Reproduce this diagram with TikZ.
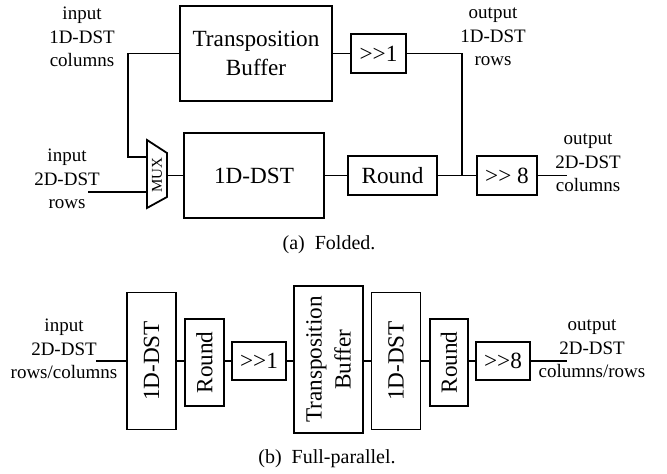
\documentclass[tikz,border=0pt]{standalone}
\usepackage{fontspec}
\setmainfont{Liberation Serif}
\usetikzlibrary{positioning}

\newcommand{\shr}[1]{\textgreater\kern0pt\textgreater#1}

\begin{document}
\begin{tikzpicture}[
        x=0.5pt, y=-0.5pt,
        font=\fontsize{11.6}{14.5}\selectfont,
        line width=0.9pt,
        box/.style={draw, inner sep=0pt, align=center},
        lbl/.style={align=center, inner sep=0pt, font=\fontsize{9.5}{11.75}\selectfont},
        capt/.style={inner sep=0pt, font=\fontsize{10}{12}\selectfont},
        vbox/.style={box, rotate=90},
      ]
        \useasboundingbox (0,0) rectangle (667,474);

        % (a) folded
        \node[box, minimum width=76pt, minimum height=47.5pt] (tbuf) at (256,53.5) {Transposition\\Buffer};
        \node[box, minimum width=70pt, minimum height=42.5pt] (dsta) at (254,175.5) {1D-DST};
        \node[box, minimum width=27.5pt, minimum height=19.5pt] (shra) at (378.5,53.5) {\shr{1}};
        \node[box, minimum width=44.5pt, minimum height=19.5pt] (rnda) at (392.5,175.5) {Round};
        \node[box, minimum width=30pt, minimum height=19.5pt] (shrb) at (507,175.5) {\shr{ 8}};

        \draw (147,140) -- (167,153) -- (167,197) -- (147,208) -- cycle;
        \node[rotate=90, inner sep=0pt, font=\fontsize{7.5}{9}\selectfont] (mux) at (157,175) {MUX};
        \coordinate (muxa) at (147,157);
        \coordinate (muxb) at (147,192);
        \coordinate (muxo) at (167,175.5);
        \coordinate (colx) at (128,157);
        \coordinate (ina) at (88,192);
        \coordinate (jn) at (461.7,175.5);
        \coordinate (outa) at (567,175.5);

        \draw (tbuf.west) -| (colx) -- (muxa);
        \draw (ina) -- (muxb);
        \draw (muxo) -- (dsta.west);
        \draw (dsta.east) -- (rnda.west);
        \draw (tbuf.east) -- (shra.west);
        \draw (shra.east) -| (jn);
        \draw (rnda.east) -- (shrb.west);
        \draw (shrb.east) -- (outa);

        \node[lbl] (incol) at (82,37) {input\\1D-DST\\columns};
        \node[lbl] (inrow) at (67,179) {input\\2D-DST\\rows};
        \node[lbl] (outrow) at (493,37) {output\\1D-DST\\rows};
        \node[lbl] (outcol) at (588,163) {output\\2D-DST\\columns};
        \node[capt] (capa) at (329,245) {(a)\enspace Folded.};

        % (b) full-parallel
        \node[vbox, minimum width=68.5pt, minimum height=24.5pt] (dstb) at (151.5,361) {1D-DST};
        \node[vbox, minimum width=43.5pt, minimum height=19.5pt] (rndb) at (204.5,362.5) {Round};
        \node[box, minimum width=27pt, minimum height=19pt] (shrc) at (259,361) {\shr{1}};
        \node[vbox, minimum width=73.5pt, minimum height=34.5pt] (tbufb) at (328.5,359.5) {Transposition\\Buffer};
        \node[vbox, minimum width=68.5pt, minimum height=24.5pt] (dstc) at (396,361) {1D-DST};
        \node[vbox, minimum width=43.5pt, minimum height=19pt] (rndc) at (449,362.5) {Round};
        \node[box, minimum width=27pt, minimum height=19pt] (shrd) at (503,361) {\shr{8}};
        \coordinate (inb) at (96,361);
        \coordinate (outb) at (567,361);

        \draw (inb) -- (dstb.north);
        \draw (dstb.south) -- (dstb.south -| rndb.north);
        \draw (rndb.south |- shrc.west) -- (shrc.west);
        \draw (shrc.east) -- (shrc.east -| tbufb.north);
        \draw (tbufb.south |- dstc.north) -- (dstc.north);
        \draw (dstc.south) -- (dstc.south -| rndc.north);
        \draw (rndc.south |- shrd.west) -- (shrd.west);
        \draw (shrd.east) -- (outb);

        \node[lbl] (inrc) at (64,349) {input\\2D-DST\\rows/columns};
        \node[lbl] (outcr) at (592,349) {output\\2D-DST\\columns/rows};
        \node[capt] (capb) at (327,459) {(b)\enspace Full-parallel.};
      \end{tikzpicture}
\end{document}
